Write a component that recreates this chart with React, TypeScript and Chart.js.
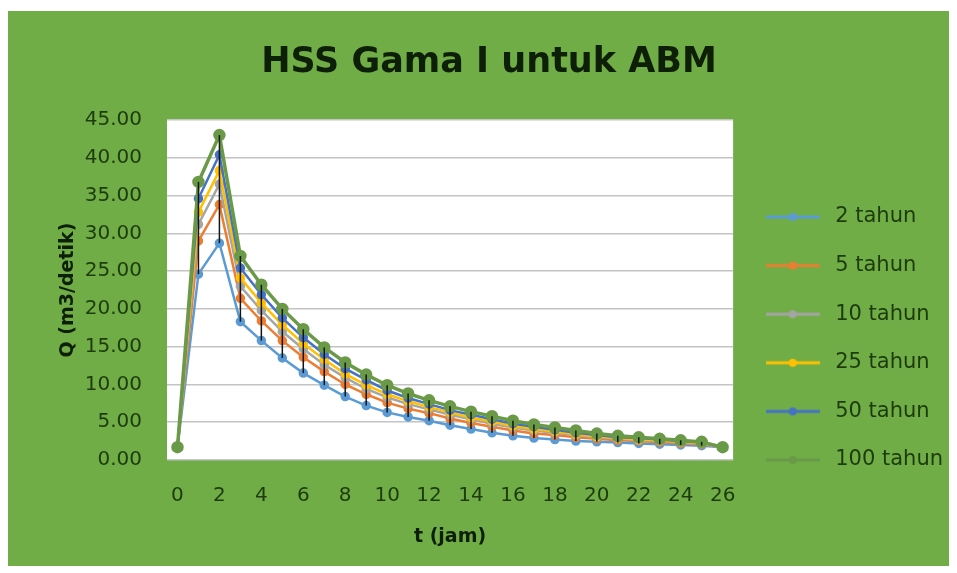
import React, { useEffect, useRef } from 'react';
import { Chart, registerables } from 'chart.js';

Chart.register(...registerables);

const TIME_LABELS = ['0', '1', '2', '3', '4', '5', '6', '7', '8', '9', '10', '11', '12', '13', '14', '15', '16', '17', '18', '19', '20', '21', '22', '23', '24', '25', '26'];

const Q_2 = [1.7, 24.6, 28.7, 18.3, 15.8, 13.5, 11.5, 9.9, 8.4, 7.2, 6.3, 5.7, 5.2, 4.6, 4.1, 3.6, 3.2, 2.9, 2.7, 2.5, 2.4, 2.3, 2.2, 2.1, 2.0, 1.9, 1.7];
const Q_5 = [1.7, 29.0, 33.8, 21.4, 18.4, 15.8, 13.6, 11.7, 10.0, 8.7, 7.6, 6.8, 6.2, 5.5, 4.9, 4.4, 3.9, 3.5, 3.3, 3.0, 2.8, 2.6, 2.5, 2.35, 2.2, 2.1, 1.7];
const Q_10 = [1.7, 31.2, 36.5, 23.0, 19.8, 17.0, 14.7, 12.6, 10.9, 9.4, 8.3, 7.4, 6.7, 6.0, 5.4, 4.8, 4.3, 3.9, 3.6, 3.3, 3.0, 2.8, 2.6, 2.5, 2.3, 2.2, 1.7];
const Q_25 = [1.7, 32.8, 38.3, 24.1, 20.8, 17.9, 15.4, 13.3, 11.4, 9.9, 8.7, 7.8, 7.0, 6.3, 5.6, 5.1, 4.5, 4.1, 3.8, 3.4, 3.1, 2.9, 2.7, 2.6, 2.4, 2.2, 1.7];
const Q_50 = [1.7, 34.6, 40.4, 25.4, 21.9, 18.8, 16.2, 14.0, 12.1, 10.6, 9.2, 8.2, 7.4, 6.6, 6.0, 5.4, 4.8, 4.4, 4.0, 3.6, 3.3, 3.0, 2.9, 2.7, 2.5, 2.3, 1.7];
const Q_100 = [1.7, 36.8, 43.0, 27.0, 23.2, 20.0, 17.3, 14.9, 12.9, 11.3, 9.9, 8.8, 7.9, 7.1, 6.4, 5.8, 5.2, 4.7, 4.3, 3.9, 3.5, 3.2, 3.0, 2.8, 2.6, 2.4, 1.7];

const SERIES_NAMES = ['2 tahun', '5 tahun', '10 tahun', '25 tahun', '50 tahun', '100 tahun'];
const SERIES_VALUES = [Q_2, Q_5, Q_10, Q_25, Q_50, Q_100];
const SERIES_COLORS = ['#5B9BD5', '#ED7D31', '#A5A5A5', '#FFC000', '#4472C4', '#6A9A48'];

const Y_MIN = 0;
const Y_MAX = 45;
const Y_STEP = 5;

const TITLE = 'HSS Gama I untuk ABM';
const X_TITLE = 't (jam)';
const Y_TITLE = 'Q (m3/detik)';

const FONT = "'DejaVu Sans', sans-serif";
const TEXT_COLOR = '#1d3b0d';

function makeLegendImage(color: string): HTMLCanvasElement {
  const c = document.createElement('canvas');
  c.width = 54;
  c.height = 12;
  const ctx = c.getContext('2d')!;
  ctx.strokeStyle = color;
  ctx.lineWidth = 3;
  ctx.beginPath();
  ctx.moveTo(0, 6);
  ctx.lineTo(54, 6);
  ctx.stroke();
  ctx.fillStyle = color;
  ctx.beginPath();
  ctx.arc(27, 6, 4, 0, Math.PI * 2);
  ctx.fill();
  return c;
}

const backgroundPlugin = {
  id: 'bgFrame',
  beforeDraw(chart: any) {
    const { ctx, width, height, chartArea } = chart;
    ctx.save();
    ctx.fillStyle = '#ffffff';
    ctx.fillRect(0, 0, width, height);
    ctx.fillStyle = '#70AD47';
    ctx.fillRect(8, 11, width - 16, height - 18);
    ctx.fillStyle = '#ffffff';
    ctx.fillRect(chartArea.left, chartArea.top, chartArea.right - chartArea.left, chartArea.bottom - chartArea.top);
    ctx.restore();
  },
};

const highLowPlugin = {
  id: 'highLow',
  afterDatasetsDraw(chart: any) {
    const { ctx, scales } = chart;
    const n = TIME_LABELS.length;
    ctx.save();
    ctx.strokeStyle = '#151515';
    ctx.lineWidth = 1.5;
    for (let i = 0; i < n; i++) {
      let lo = Infinity;
      let hi = -Infinity;
      chart.data.datasets.forEach((ds: any) => {
        const v = ds.data[i];
        if (v < lo) lo = v;
        if (v > hi) hi = v;
      });
      if (hi - lo <= 0) continue;
      const x = scales.x.getPixelForValue(i);
      ctx.beginPath();
      ctx.moveTo(x, scales.y.getPixelForValue(lo));
      ctx.lineTo(x, scales.y.getPixelForValue(hi));
      ctx.stroke();
    }
    ctx.restore();
  },
};

export default function App() {
  const canvasRef = useRef<HTMLCanvasElement | null>(null);

  useEffect(() => {
    if (!canvasRef.current) return;
    const legendImgs = SERIES_COLORS.map((c) => makeLegendImage(c));
    const chart = new Chart(canvasRef.current, {
      type: 'line',
      data: {
        labels: TIME_LABELS,
        datasets: SERIES_NAMES.map((name, i) => ({
          label: name,
          data: SERIES_VALUES[i],
          borderColor: SERIES_COLORS[i],
          backgroundColor: SERIES_COLORS[i],
          pointBackgroundColor: SERIES_COLORS[i],
          pointBorderColor: SERIES_COLORS[i],
          borderWidth: i === 5 ? 3.5 : 2.5,
          pointRadius: i === 5 ? 4.5 : 3.5,
          pointStyle: 'circle',
          tension: 0,
          fill: false,
          order: SERIES_NAMES.length - i,
        })),
      },
      options: {
        responsive: false,
        animation: false,
        layout: { padding: { left: 25, right: 4, top: 10, bottom: 10 } },
        plugins: {
          title: {
            display: true,
            text: TITLE,
            color: '#0e1f08',
            font: { family: FONT, size: 35, weight: 'bold', lineHeight: 1.2 },
            padding: { top: 32, bottom: 36 },
          },
          legend: {
            display: true,
            position: 'right',
            align: 'start',
            maxWidth: 220,
            title: {
              display: true,
              text: ' ',
              font: { family: FONT, size: 10, lineHeight: 1.2 },
              padding: { top: 156.9, bottom: 0 },
            },
            labels: {
              usePointStyle: true,
              pointStyleWidth: 64,
              padding: 27.6,
              color: TEXT_COLOR,
              font: { family: FONT, size: 21 },
              sort: (a: any, b: any) => a.datasetIndex - b.datasetIndex,
              generateLabels: (ch: any) =>
                Chart.defaults.plugins.legend.labels.generateLabels(ch).map((l: any, i: number) => ({
                  ...l,
                  pointStyle: legendImgs[l.datasetIndex ?? i],
                })),
            },
          },
          tooltip: { enabled: false },
        },
        scales: {
          x: {
            type: 'category',
            offset: true,
            grid: { display: false, drawTicks: false },
            border: { display: false },
            afterFit: (scale: any) => {
              scale.height = 103;
            },
            ticks: {
              autoSkip: false,
              maxRotation: 0,
              padding: 24,
              color: TEXT_COLOR,
              font: { family: FONT, size: 20 },
              callback: function (this: any, value: any, index: number) {
                return index % 2 === 0 ? TIME_LABELS[index] : '';
              },
            },
            title: {
              display: true,
              text: X_TITLE,
              color: '#0e1f08',
              font: { family: FONT, size: 19, weight: 'bold', lineHeight: 1.2 },
              padding: { top: 0, bottom: 15 },
            },
          },
          y: {
            min: Y_MIN,
            max: Y_MAX,
            afterFit: (scale: any) => {
              scale.width = 142;
            },
            grid: { color: '#c4c4c4', lineWidth: 1.5, drawTicks: false },
            border: { display: false },
            ticks: {
              stepSize: Y_STEP,
              padding: 25,
              color: TEXT_COLOR,
              font: { family: FONT, size: 20 },
              callback: (v: any) => Number(v).toFixed(2),
            },
            title: {
              display: true,
              text: Y_TITLE,
              color: '#0e1f08',
              font: { family: FONT, size: 19, weight: 'bold', lineHeight: 1.2 },
              padding: { top: 32, bottom: 0 },
            },
          },
        },
      },
      plugins: [backgroundPlugin, highLowPlugin],
    } as any);
    return () => chart.destroy();
  }, []);

  return (
    <div style={{ position: 'absolute', left: 0, top: 0, width: 957, height: 573 }}>
      <canvas ref={canvasRef} width={957} height={573} style={{ display: 'block', width: 957, height: 573 }} />
    </div>
  );
}
